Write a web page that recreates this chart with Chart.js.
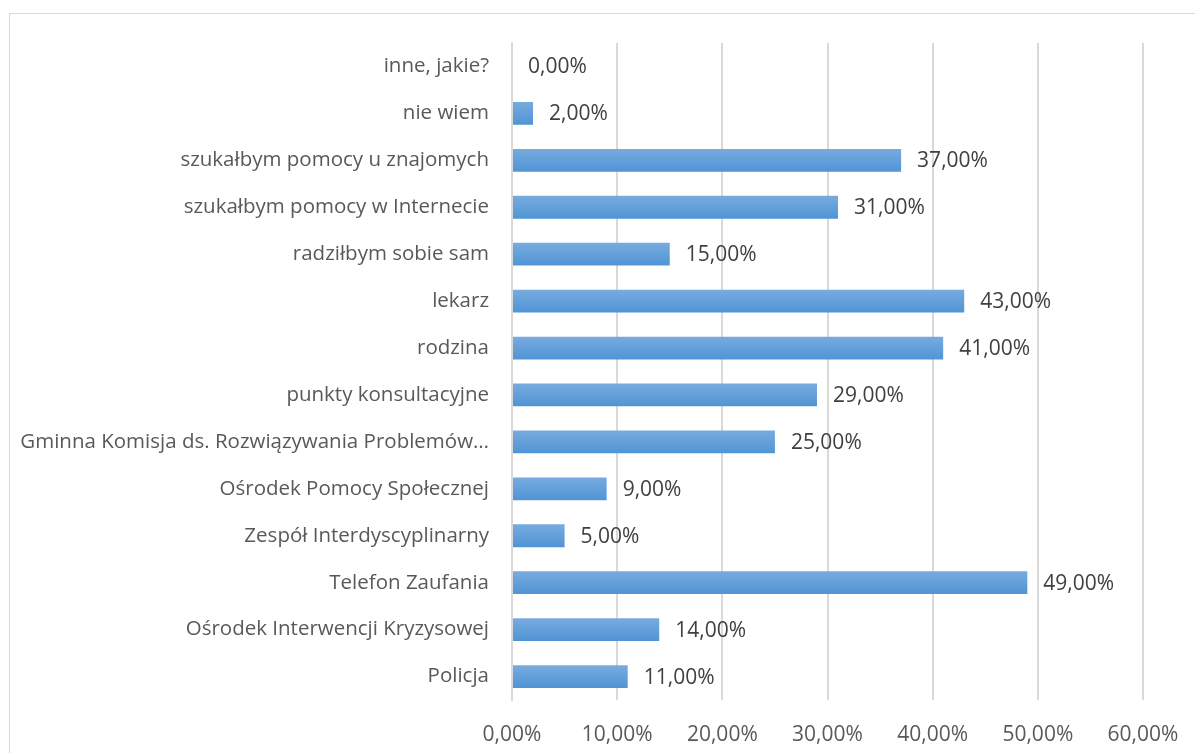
<!DOCTYPE html>
<html>
<head>
<meta charset="utf-8">
<script src="https://cdn.jsdelivr.net/npm/chart.js@4/dist/chart.umd.min.js"></script>
<style>
  html, body { margin: 0; padding: 0; background: #fff; overflow: hidden; }
  #ramka { position: absolute; left: 9px; top: 13px; width: 1200px; height: 800px; border: 1px solid #d9d9d9; box-sizing: border-box; }
  #wrap { position: absolute; left: 0; top: 0; width: 1195px; height: 753px; }
</style>
</head>
<body>
<div id="ramka"></div>
<div id="wrap"><canvas id="wykres"></canvas></div>
<script>
const kategorie = [
  'inne, jakie?',
  'nie wiem',
  'szukałbym pomocy u znajomych',
  'szukałbym pomocy w Internecie',
  'radziłbym sobie sam',
  'lekarz',
  'rodzina',
  'punkty konsultacyjne',
  'Gminna Komisja ds. Rozwiązywania Problemów…',
  'Ośrodek Pomocy Społecznej',
  'Zespół Interdyscyplinarny',
  'Telefon Zaufania',
  'Ośrodek Interwencji Kryzysowej',
  'Policja'
];
const wartosci = [0, 2, 37, 31, 15, 43, 41, 29, 25, 9, 5, 49, 14, 11];
const osX = [0, 10, 20, 30, 40, 50, 60];

const czcionka = '"Open Sans", sans-serif';
const fmt = v => v.toFixed(2).replace('.', ',') + '%';
const grubosc = 0.5 * 0.97;

// gradient pionowy na każdym słupku, liczony ze skali y
function gradient(ctx) {
  const chart = ctx.chart;
  const y = chart.scales.y;
  if (!y || !chart.chartArea || ctx.dataIndex == null) return '#5b9bd5';
  const cy = y.getPixelForValue(ctx.dataIndex);
  const h = (y.height / kategorie.length) * grubosc;
  const g = chart.ctx.createLinearGradient(0, cy - h / 2, 0, cy + h / 2);
  g.addColorStop(0, '#78abdf');
  g.addColorStop(1, '#5094d5');
  return g;
}

const etykiety = {
  id: 'etykiety',
  afterDatasetsDraw(chart) {
    const c = chart.ctx;
    const meta = chart.getDatasetMeta(0);
    c.save();
    c.font = '21px ' + czcionka;
    c.fillStyle = '#404040';
    c.textAlign = 'left';
    c.textBaseline = 'middle';
    meta.data.forEach((bar, i) => {
      c.fillText(fmt(wartosci[i]), bar.x + 16, bar.y + 1);
    });
    c.restore();
  }
};

new Chart(document.getElementById('wykres'), {
  type: 'bar',
  data: {
    labels: kategorie,
    datasets: [{
      data: wartosci,
      backgroundColor: gradient,
      barPercentage: 0.97,
      categoryPercentage: 0.5
    }]
  },
  options: {
    indexAxis: 'y',
    responsive: true,
    maintainAspectRatio: false,
    animation: false,
    layout: { padding: { top: 43, right: 52, left: 0, bottom: 0 } },
    plugins: { legend: { display: false }, tooltip: { enabled: false } },
    scales: {
      x: {
        min: 0,
        max: 60,
        afterBuildTicks: s => { s.ticks = osX.map(v => ({ value: v })); },
        afterFit: s => { s.height = 53; s.paddingLeft = 0; s.paddingRight = 0; },
        grid: { color: '#d9d9d9', lineWidth: 2, drawTicks: false },
        border: { display: false },
        ticks: { color: '#595959', font: { size: 21, family: czcionka }, padding: 22, callback: v => fmt(v) }
      },
      y: {
        afterFit: s => { s.width = 512; },
        grid: { display: false, drawTicks: false },
        border: { display: true, color: '#d9d9d9', width: 2 },
        ticks: { color: '#595959', font: { size: 20.5, family: czcionka }, padding: 23, autoSkip: false }
      }
    }
  },
  plugins: [etykiety]
});
</script>
</body>
</html>
